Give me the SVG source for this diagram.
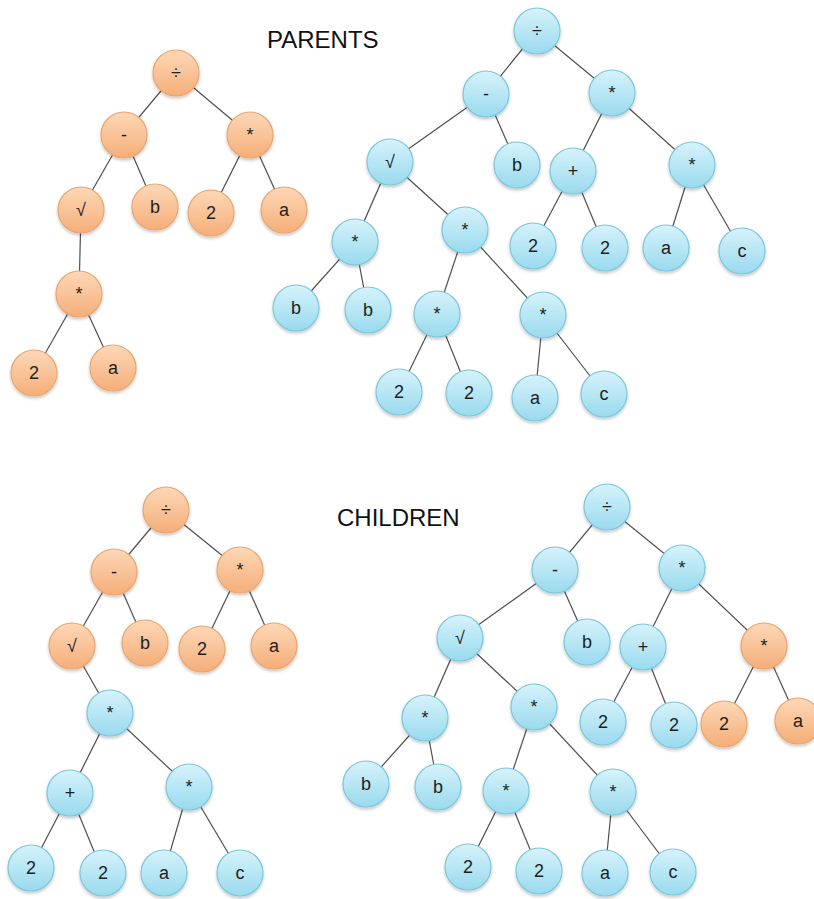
<svg xmlns="http://www.w3.org/2000/svg" width="814" height="899" viewBox="0 0 814 899">
<style>
.e{stroke:#4f4f4f;stroke-width:1.2;fill:none}
.b{fill:url(#gb);stroke:#7cc6dc;stroke-width:1.2;filter:url(#sh)}
.o{fill:url(#go);stroke:#eaa56e;stroke-width:1.2;filter:url(#sh)}
.t{font-family:"Liberation Sans",Arial,sans-serif;font-size:18px;fill:#1e1e1e;text-anchor:middle}
.h{font-family:"Liberation Sans",Arial,sans-serif;font-size:24px;fill:#111}
</style>
<defs>
<linearGradient id="gb" x1="0" y1="0" x2="0" y2="1"><stop offset="0" stop-color="#d6f3fb"/><stop offset="1" stop-color="#99daee"/></linearGradient>
<linearGradient id="go" x1="0" y1="0" x2="0" y2="1"><stop offset="0" stop-color="#fdd8b8"/><stop offset="1" stop-color="#f5ae78"/></linearGradient>
<filter id="sh" x="-30%" y="-30%" width="160%" height="170%"><feDropShadow dx="0" dy="2" stdDeviation="1.5" flood-color="#000" flood-opacity="0.22"/></filter>
</defs>
<rect width="814" height="899" fill="#fff"/>
<text class="h" x="267" y="48">PARENTS</text>
<text class="h" x="337" y="526">CHILDREN</text>
<g id="connectors">
<line class="e" x1="176" y1="73" x2="124" y2="135"/>
<line class="e" x1="176" y1="73" x2="250" y2="135"/>
<line class="e" x1="124" y1="135" x2="81" y2="210"/>
<line class="e" x1="124" y1="135" x2="155" y2="207"/>
<line class="e" x1="250" y1="135" x2="211" y2="213"/>
<line class="e" x1="250" y1="135" x2="284" y2="210"/>
<line class="e" x1="81" y1="210" x2="79" y2="294"/>
<line class="e" x1="79" y1="294" x2="34" y2="373"/>
<line class="e" x1="79" y1="294" x2="113" y2="368"/>

<line class="e" x1="537" y1="31" x2="486" y2="94"/>
<line class="e" x1="537" y1="31" x2="612" y2="93"/>
<line class="e" x1="486" y1="94" x2="390" y2="162"/>
<line class="e" x1="486" y1="94" x2="517" y2="165"/>
<line class="e" x1="612" y1="93" x2="573" y2="171"/>
<line class="e" x1="612" y1="93" x2="692" y2="165"/>
<line class="e" x1="390" y1="162" x2="355" y2="242"/>
<line class="e" x1="390" y1="162" x2="465" y2="230"/>
<line class="e" x1="573" y1="171" x2="533" y2="246"/>
<line class="e" x1="573" y1="171" x2="605" y2="248"/>
<line class="e" x1="692" y1="165" x2="666" y2="248"/>
<line class="e" x1="692" y1="165" x2="742" y2="251"/>
<line class="e" x1="355" y1="242" x2="296" y2="308"/>
<line class="e" x1="355" y1="242" x2="368" y2="310"/>
<line class="e" x1="465" y1="230" x2="437" y2="314"/>
<line class="e" x1="465" y1="230" x2="543" y2="315"/>
<line class="e" x1="437" y1="314" x2="399" y2="392"/>
<line class="e" x1="437" y1="314" x2="469" y2="393"/>
<line class="e" x1="543" y1="315" x2="535" y2="398"/>
<line class="e" x1="543" y1="315" x2="604" y2="394"/>

<line class="e" x1="166" y1="510" x2="114" y2="572"/>
<line class="e" x1="166" y1="510" x2="240" y2="570"/>
<line class="e" x1="114" y1="572" x2="72" y2="646"/>
<line class="e" x1="114" y1="572" x2="145" y2="643"/>
<line class="e" x1="240" y1="570" x2="202" y2="649"/>
<line class="e" x1="240" y1="570" x2="274" y2="646"/>
<line class="e" x1="72" y1="646" x2="110" y2="713"/>
<line class="e" x1="110" y1="713" x2="70" y2="793"/>
<line class="e" x1="110" y1="713" x2="189" y2="787"/>
<line class="e" x1="70" y1="793" x2="31" y2="868"/>
<line class="e" x1="70" y1="793" x2="103" y2="873"/>
<line class="e" x1="189" y1="787" x2="164" y2="873"/>
<line class="e" x1="189" y1="787" x2="240" y2="873"/>

<line class="e" x1="607" y1="507" x2="555" y2="570"/>
<line class="e" x1="607" y1="507" x2="682" y2="568"/>
<line class="e" x1="555" y1="570" x2="460" y2="638"/>
<line class="e" x1="555" y1="570" x2="587" y2="642"/>
<line class="e" x1="682" y1="568" x2="643" y2="647"/>
<line class="e" x1="682" y1="568" x2="764" y2="646"/>
<line class="e" x1="460" y1="638" x2="425" y2="718"/>
<line class="e" x1="460" y1="638" x2="534" y2="707"/>
<line class="e" x1="643" y1="647" x2="603" y2="722"/>
<line class="e" x1="643" y1="647" x2="674" y2="725"/>
<line class="e" x1="764" y1="646" x2="724" y2="724"/>
<line class="e" x1="764" y1="646" x2="798" y2="721"/>
<line class="e" x1="425" y1="718" x2="366" y2="784"/>
<line class="e" x1="425" y1="718" x2="438" y2="787"/>
<line class="e" x1="534" y1="707" x2="506" y2="791"/>
<line class="e" x1="534" y1="707" x2="613" y2="792"/>
<line class="e" x1="506" y1="791" x2="468" y2="867"/>
<line class="e" x1="506" y1="791" x2="539" y2="871"/>
<line class="e" x1="613" y1="792" x2="605" y2="873"/>
<line class="e" x1="613" y1="792" x2="673" y2="872"/>
</g>

<g id="p1_div"><circle class="o" cx="176" cy="73" r="23"/><text class="t" x="176" y="79">÷</text></g>
<g id="p1_minus"><circle class="o" cx="124" cy="135" r="23"/><text class="t" x="124" y="141">-</text></g>
<g id="p1_mul"><circle class="o" cx="250" cy="135" r="23"/><text class="t" x="250" y="141">*</text></g>
<g id="p1_sqrt"><circle class="o" cx="81" cy="210" r="23"/><text class="t" x="81" y="216">√</text></g>
<g id="p1_b"><circle class="o" cx="155" cy="207" r="23"/><text class="t" x="155" y="213">b</text></g>
<g id="p1_2"><circle class="o" cx="211" cy="213" r="23"/><text class="t" x="211" y="219">2</text></g>
<g id="p1_a"><circle class="o" cx="284" cy="210" r="23"/><text class="t" x="284" y="216">a</text></g>
<g id="p1_mul2"><circle class="o" cx="79" cy="294" r="23"/><text class="t" x="79" y="300">*</text></g>
<g id="p1_2b"><circle class="o" cx="34" cy="373" r="23"/><text class="t" x="34" y="379">2</text></g>
<g id="p1_ab"><circle class="o" cx="113" cy="368" r="23"/><text class="t" x="113" y="374">a</text></g>

<g id="p2_div"><circle class="b" cx="537" cy="31" r="23"/><text class="t" x="537" y="37">÷</text></g>
<g id="p2_minus"><circle class="b" cx="486" cy="94" r="23"/><text class="t" x="486" y="100">-</text></g>
<g id="p2_mul"><circle class="b" cx="612" cy="93" r="23"/><text class="t" x="612" y="99">*</text></g>
<g id="p2_sqrt"><circle class="b" cx="390" cy="162" r="23"/><text class="t" x="390" y="168">√</text></g>
<g id="p2_b"><circle class="b" cx="517" cy="165" r="23"/><text class="t" x="517" y="171">b</text></g>
<g id="p2_plus"><circle class="b" cx="573" cy="171" r="23"/><text class="t" x="573" y="177">+</text></g>
<g id="p2_mulr"><circle class="b" cx="692" cy="165" r="23"/><text class="t" x="692" y="171">*</text></g>
<g id="p2_mulL"><circle class="b" cx="355" cy="242" r="23"/><text class="t" x="355" y="248">*</text></g>
<g id="p2_mulR"><circle class="b" cx="465" cy="230" r="23"/><text class="t" x="465" y="236">*</text></g>
<g id="p2_2a"><circle class="b" cx="533" cy="246" r="23"/><text class="t" x="533" y="252">2</text></g>
<g id="p2_2b"><circle class="b" cx="605" cy="248" r="23"/><text class="t" x="605" y="254">2</text></g>
<g id="p2_a"><circle class="b" cx="666" cy="248" r="23"/><text class="t" x="666" y="254">a</text></g>
<g id="p2_c"><circle class="b" cx="742" cy="251" r="23"/><text class="t" x="742" y="257">c</text></g>
<g id="p2_b1"><circle class="b" cx="296" cy="308" r="23"/><text class="t" x="296" y="314">b</text></g>
<g id="p2_b2"><circle class="b" cx="368" cy="310" r="23"/><text class="t" x="368" y="316">b</text></g>
<g id="p2_mulRL"><circle class="b" cx="437" cy="314" r="23"/><text class="t" x="437" y="320">*</text></g>
<g id="p2_mulRR"><circle class="b" cx="543" cy="315" r="23"/><text class="t" x="543" y="321">*</text></g>
<g id="p2_2c"><circle class="b" cx="399" cy="392" r="23"/><text class="t" x="399" y="398">2</text></g>
<g id="p2_2d"><circle class="b" cx="469" cy="393" r="23"/><text class="t" x="469" y="399">2</text></g>
<g id="p2_a2"><circle class="b" cx="535" cy="398" r="23"/><text class="t" x="535" y="404">a</text></g>
<g id="p2_c2"><circle class="b" cx="604" cy="394" r="23"/><text class="t" x="604" y="400">c</text></g>

<g id="c1_div"><circle class="o" cx="166" cy="510" r="23"/><text class="t" x="166" y="516">÷</text></g>
<g id="c1_minus"><circle class="o" cx="114" cy="572" r="23"/><text class="t" x="114" y="578">-</text></g>
<g id="c1_mul"><circle class="o" cx="240" cy="570" r="23"/><text class="t" x="240" y="576">*</text></g>
<g id="c1_sqrt"><circle class="o" cx="72" cy="646" r="23"/><text class="t" x="72" y="652">√</text></g>
<g id="c1_b"><circle class="o" cx="145" cy="643" r="23"/><text class="t" x="145" y="649">b</text></g>
<g id="c1_2"><circle class="o" cx="202" cy="649" r="23"/><text class="t" x="202" y="655">2</text></g>
<g id="c1_a"><circle class="o" cx="274" cy="646" r="23"/><text class="t" x="274" y="652">a</text></g>
<g id="c1_mulb"><circle class="b" cx="110" cy="713" r="23"/><text class="t" x="110" y="719">*</text></g>
<g id="c1_plus"><circle class="b" cx="70" cy="793" r="23"/><text class="t" x="70" y="799">+</text></g>
<g id="c1_mulr"><circle class="b" cx="189" cy="787" r="23"/><text class="t" x="189" y="793">*</text></g>
<g id="c1_2a"><circle class="b" cx="31" cy="868" r="23"/><text class="t" x="31" y="874">2</text></g>
<g id="c1_2b"><circle class="b" cx="103" cy="873" r="23"/><text class="t" x="103" y="879">2</text></g>
<g id="c1_a2"><circle class="b" cx="164" cy="873" r="23"/><text class="t" x="164" y="879">a</text></g>
<g id="c1_c"><circle class="b" cx="240" cy="873" r="23"/><text class="t" x="240" y="879">c</text></g>

<g id="c2_div"><circle class="b" cx="607" cy="507" r="23"/><text class="t" x="607" y="513">÷</text></g>
<g id="c2_minus"><circle class="b" cx="555" cy="570" r="23"/><text class="t" x="555" y="576">-</text></g>
<g id="c2_mul"><circle class="b" cx="682" cy="568" r="23"/><text class="t" x="682" y="574">*</text></g>
<g id="c2_sqrt"><circle class="b" cx="460" cy="638" r="23"/><text class="t" x="460" y="644">√</text></g>
<g id="c2_b"><circle class="b" cx="587" cy="642" r="23"/><text class="t" x="587" y="648">b</text></g>
<g id="c2_plus"><circle class="b" cx="643" cy="647" r="23"/><text class="t" x="643" y="653">+</text></g>
<g id="c2_mulo"><circle class="o" cx="764" cy="646" r="23"/><text class="t" x="764" y="652">*</text></g>
<g id="c2_mulL"><circle class="b" cx="425" cy="718" r="23"/><text class="t" x="425" y="724">*</text></g>
<g id="c2_mulR"><circle class="b" cx="534" cy="707" r="23"/><text class="t" x="534" y="713">*</text></g>
<g id="c2_2a"><circle class="b" cx="603" cy="722" r="23"/><text class="t" x="603" y="728">2</text></g>
<g id="c2_2b"><circle class="b" cx="674" cy="725" r="23"/><text class="t" x="674" y="731">2</text></g>
<g id="c2_2o"><circle class="o" cx="724" cy="724" r="23"/><text class="t" x="724" y="730">2</text></g>
<g id="c2_ao"><circle class="o" cx="798" cy="721" r="23"/><text class="t" x="798" y="727">a</text></g>
<g id="c2_b1"><circle class="b" cx="366" cy="784" r="23"/><text class="t" x="366" y="790">b</text></g>
<g id="c2_b2"><circle class="b" cx="438" cy="787" r="23"/><text class="t" x="438" y="793">b</text></g>
<g id="c2_mulRL"><circle class="b" cx="506" cy="791" r="23"/><text class="t" x="506" y="797">*</text></g>
<g id="c2_mulRR"><circle class="b" cx="613" cy="792" r="23"/><text class="t" x="613" y="798">*</text></g>
<g id="c2_2c"><circle class="b" cx="468" cy="867" r="23"/><text class="t" x="468" y="873">2</text></g>
<g id="c2_2d"><circle class="b" cx="539" cy="871" r="23"/><text class="t" x="539" y="877">2</text></g>
<g id="c2_a"><circle class="b" cx="605" cy="873" r="23"/><text class="t" x="605" y="879">a</text></g>
<g id="c2_c"><circle class="b" cx="673" cy="872" r="23"/><text class="t" x="673" y="878">c</text></g>
</svg>
